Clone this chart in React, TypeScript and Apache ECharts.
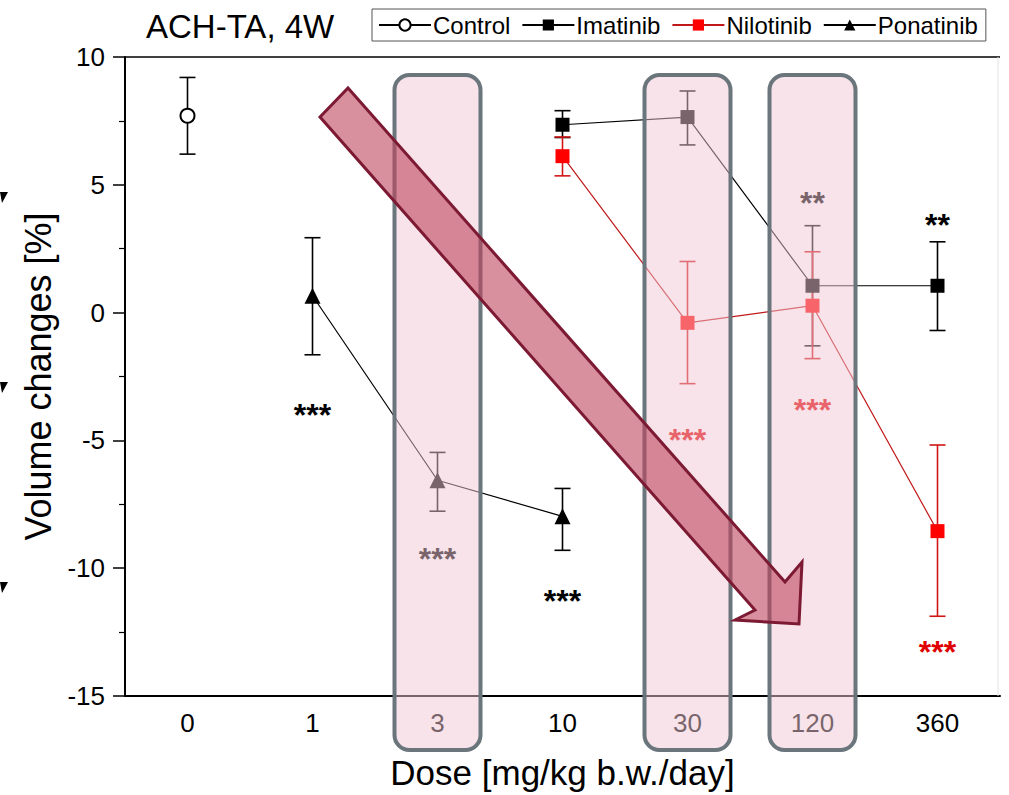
import React, { useEffect, useRef } from "react";
import * as echarts from "echarts";

const doses = ["0", "1", "3", "10", "30", "120", "360"];

const controlMean = [7.7, null, null, null, null, null, null];
const controlLow = [6.2, null, null, null, null, null, null];
const controlHigh = [9.2, null, null, null, null, null, null];

const imatinibMean = [null, null, null, 7.35, 7.65, 1.05, 1.05];
const imatinibLow = [null, null, null, 6.85, 6.56, -1.3, -0.7];
const imatinibHigh = [null, null, null, 7.9, 8.67, 3.4, 2.77];

const nilotinibMean = [null, null, null, 6.12, -0.4, 0.27, -8.55];
const nilotinibLow = [null, null, null, 5.35, -2.78, -1.8, -11.88];
const nilotinibHigh = [null, null, null, 6.87, 2.0, 2.38, -5.18];

const ponatinibMean = [null, 0.66, -6.56, -7.97, null, null, null];
const ponatinibLow = [null, -1.65, -7.77, -9.3, null, null, null];
const ponatinibHigh = [null, 2.93, -5.47, -6.88, null, null, null];

const sigDose = ["1", "3", "10", "30", "120", "120", "360", "360"];
const sigText = ["***", "***", "***", "***", "**", "***", "**", "***"];
const sigValue = [-3.67, -9.3, -10.94, -4.65, 4.65, -3.44, 3.79, -12.93];
const sigColor = ["#000", "#000", "#000", "#e00000", "#000", "#e00000", "#000", "#e00000"];

const highlightDoses = ["3", "30", "120"];
const yTicks = [-15, -10, -5, 0, 5, 10];

const FONT = 'Arial, "Liberation Sans", Helvetica, sans-serif';

function errData(low: (number | null)[], high: (number | null)[]) {
  const out: number[][] = [];
  low.forEach((l, i) => {
    const h = high[i];
    if (l !== null && h !== null) out.push([i, l, h]);
  });
  return out;
}

function errSeries(name: string, low: (number | null)[], high: (number | null)[], color: string) {
  return {
    type: "custom",
    name,
    z: 1,
    data: errData(low, high),
    encode: { x: 0, y: [1, 2] },
    renderItem: (params: any, api: any) => {
      const x = api.value(0);
      const lo = api.coord([x, api.value(1)]);
      const hi = api.coord([x, api.value(2)]);
      const w = 8;
      const st = { stroke: color, lineWidth: 1.6 };
      return {
        type: "group",
        children: [
          { type: "line", shape: { x1: lo[0], y1: lo[1], x2: hi[0], y2: hi[1] }, style: st },
          { type: "line", shape: { x1: lo[0] - w, y1: lo[1], x2: lo[0] + w, y2: lo[1] }, style: st },
          { type: "line", shape: { x1: hi[0] - w, y1: hi[1], x2: hi[0] + w, y2: hi[1] }, style: st },
        ],
      };
    },
  };
}

export default function App() {
  const ref = useRef<HTMLDivElement>(null);

  useEffect(() => {
    if (!ref.current) return;
    const chart = echarts.init(ref.current, null, { renderer: "svg" });

    const option: any = {
      animation: false,
      textStyle: { fontFamily: FONT },
      title: {
        text: "ACH-TA, 4W",
        left: 141,
        top: 5,
        textStyle: { fontSize: 33, fontWeight: "normal", color: "#000", fontFamily: FONT },
      },
      legend: {
        data: ["Control", "Imatinib", "Nilotinib", "Ponatinib"],
        left: 372,
        top: 9,
        padding: [4, 8, 4, 6],
        itemGap: 11,
        itemWidth: 52,
        itemHeight: 14,
        borderColor: "#555",
        borderWidth: 1,
        textStyle: { fontSize: 24, color: "#000", fontFamily: FONT, padding: [0, 0, 0, -3] },
      },
      grid: { left: 125, right: 9, top: 57, bottom: 97, containLabel: false },
      xAxis: {
        type: "category",
        data: doses,
        boundaryGap: true,
        name: "Dose [mg/kg b.w./day]",
        nameLocation: "middle",
        nameGap: 59,
        nameTextStyle: { fontSize: 35, color: "#000", fontFamily: FONT },
        axisLine: { onZero: false, lineStyle: { color: "#000", width: 2 } },
        axisTick: { show: false },
        axisLabel: { fontSize: 26, color: "#000", margin: 14, fontFamily: FONT },
        splitLine: { show: false },
      },
      yAxis: {
        type: "value",
        min: yTicks[0],
        max: yTicks[yTicks.length - 1],
        interval: 5,
        name: "Volume changes [%]",
        nameLocation: "middle",
        nameGap: 66,
        nameTextStyle: { fontSize: 36, color: "#000", fontFamily: FONT },
        axisLine: { show: true, onZero: false, lineStyle: { color: "#000", width: 2 } },
        axisTick: { show: true, inside: false, length: 12, lineStyle: { color: "#000", width: 1.5 } },
        minorTick: { show: true, splitNumber: 2, length: 6, lineStyle: { color: "#000", width: 1.2 } },
        axisLabel: { fontSize: 26, color: "#000", margin: 20, fontFamily: FONT },
        splitLine: { show: false },
      },
      series: [
        errSeries("Control-err", controlLow, controlHigh, "#000"),
        errSeries("Imatinib-err", imatinibLow, imatinibHigh, "#000"),
        errSeries("Nilotinib-err", nilotinibLow, nilotinibHigh, "#d01515"),
        errSeries("Ponatinib-err", ponatinibLow, ponatinibHigh, "#000"),
        {
          type: "line",
          name: "Control",
          data: controlMean,
          symbol: "emptyCircle",
          symbolSize: 14,
          z: 3,
          itemStyle: { color: "#000", borderColor: "#000", borderWidth: 1.3 },
          lineStyle: { color: "#000", width: 1.2 },
        },
        {
          type: "line",
          name: "Imatinib",
          data: imatinibMean,
          symbol: "rect",
          symbolSize: 14,
          showAllSymbol: true,
          z: 3,
          itemStyle: { color: "#000" },
          lineStyle: { color: "#000", width: 1.2 },
        },
        {
          type: "line",
          name: "Nilotinib",
          data: nilotinibMean,
          symbol: "rect",
          symbolSize: 14,
          showAllSymbol: true,
          z: 3,
          itemStyle: { color: "#ff0000" },
          lineStyle: { color: "#c01818", width: 1.2 },
        },
        {
          type: "line",
          name: "Ponatinib",
          data: ponatinibMean,
          symbol: "triangle",
          symbolSize: 16,
          showAllSymbol: true,
          z: 3,
          itemStyle: { color: "#000" },
          lineStyle: { color: "#000", width: 1.2 },
        },
      ],
    };

    chart.setOption(option);

    const px = (idx: number, v: number) => chart.convertToPixel({ gridIndex: 0 }, [idx, v]) as number[];
    const top = px(0, yTicks[yTicks.length - 1]);
    const bottom = px(0, yTicks[0]);
    const gridLeft = 125;
    const gridRight = 1000;

    const graphics: any[] = [];

    graphics.push({
      type: "line",
      z: 5,
      shape: { x1: gridLeft, y1: top[1], x2: gridRight, y2: top[1] },
      style: { stroke: "#000", lineWidth: 1.5 },
    });
    graphics.push({
      type: "line",
      z: 5,
      shape: { x1: gridRight - 2, y1: top[1], x2: gridRight - 2, y2: bottom[1] },
      style: { stroke: "#e2e2e2", lineWidth: 1 },
    });

    sigDose.forEach((d, i) => {
      const p = px(doses.indexOf(d), sigValue[i]);
      graphics.push({
        type: "text",
        z: 10,
        x: p[0],
        y: p[1] + 9,
        style: {
          text: sigText[i],
          fill: sigColor[i],
          fontSize: 32,
          fontWeight: "bold",
          fontFamily: FONT,
          align: "center",
          verticalAlign: "middle",
        },
      });
    });

    highlightDoses.forEach((d) => {
      const p = px(doses.indexOf(d), 0);
      graphics.push({
        type: "rect",
        z: 50,
        shape: { x: p[0] - 43, y: 75, width: 86, height: 675, r: 15 },
        style: { fill: "rgba(240,200,212,0.5)", stroke: "#6b757c", lineWidth: 4 },
      });
    });

    graphics.push({
      type: "polygon",
      z: 60,
      shape: {
        points: [
          [348, 88],
          [785, 582],
          [802, 562],
          [799, 624],
          [735, 620],
          [755, 610],
          [320, 117],
        ],
      },
      style: { fill: "rgba(190,70,95,0.6)", stroke: "#7d1a33", lineWidth: 3, lineJoin: "miter" },
    });

    [192, 382, 582].forEach((y) => {
      graphics.push({
        type: "polygon",
        z: 5,
        shape: { points: [[0, y], [8, y], [2, y + 11]] },
        style: { fill: "#000" },
      });
    });

    chart.setOption({ graphic: { elements: graphics } });

    return () => chart.dispose();
  }, []);

  return (
    <div
      ref={ref}
      style={{ position: "absolute", left: 0, top: 0, width: 1009, height: 795, background: "#fff" }}
    />
  );
}
